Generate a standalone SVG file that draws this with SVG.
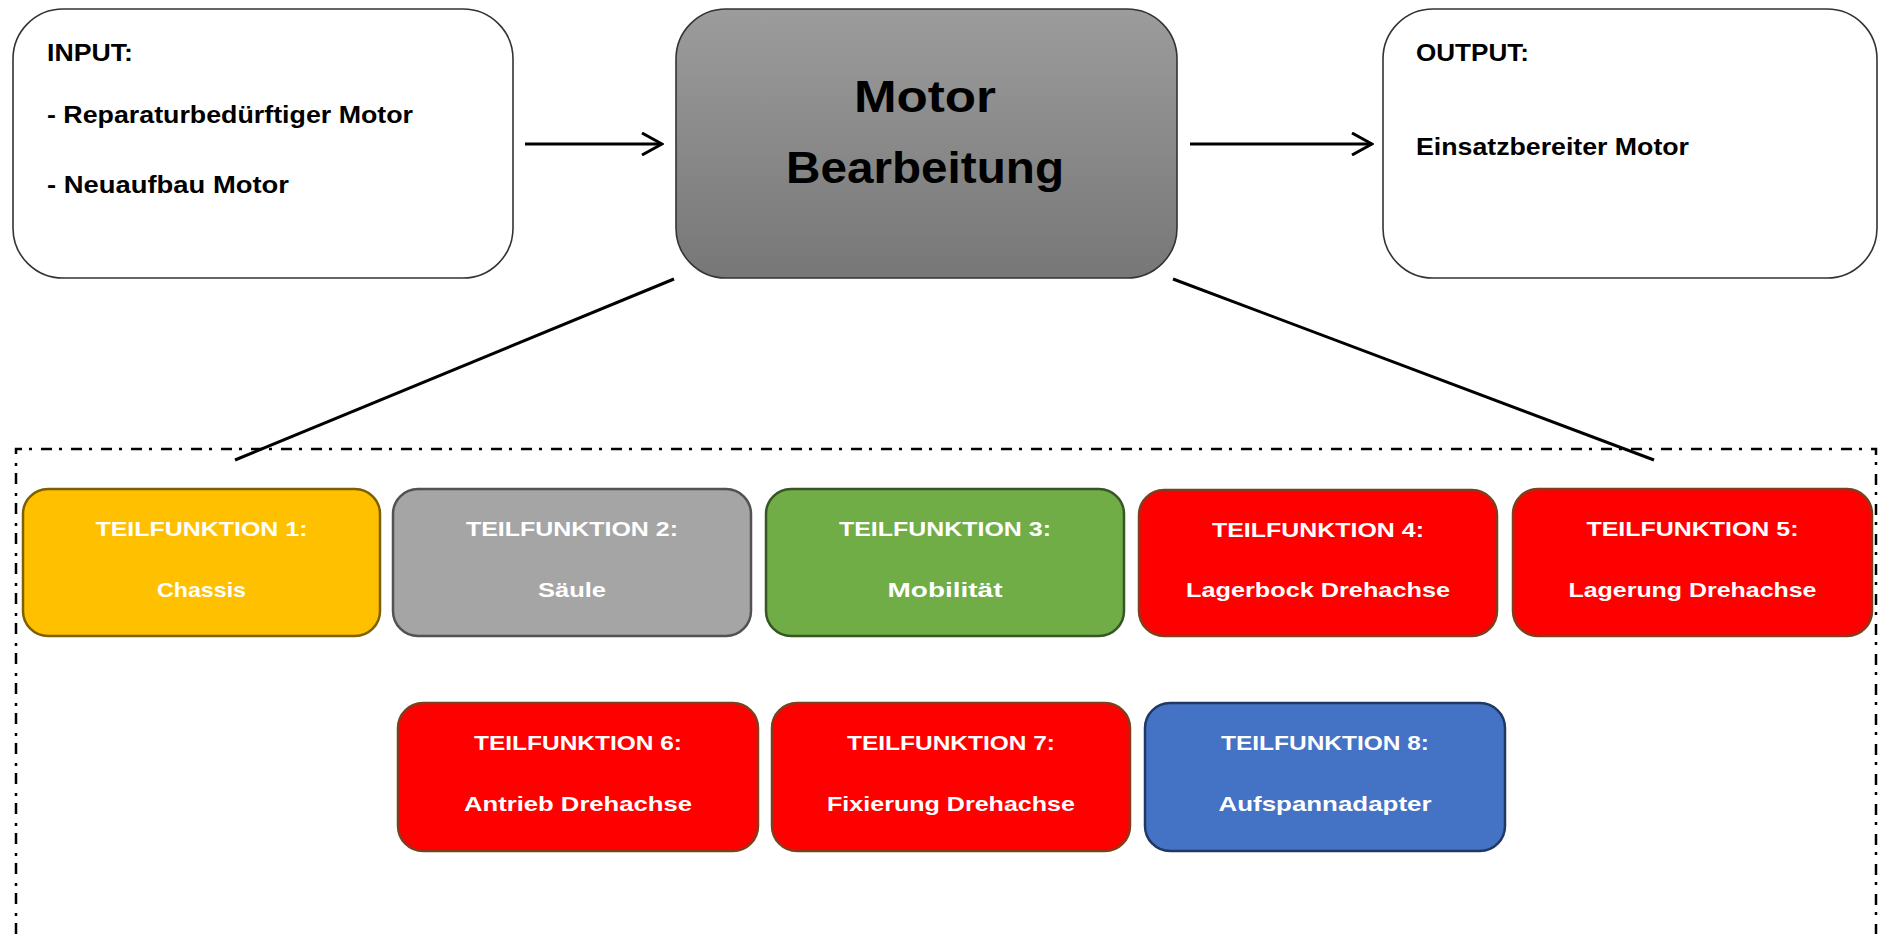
<svg xmlns="http://www.w3.org/2000/svg" width="1879" height="934" viewBox="0 0 1879 934">
<style>
text{font-family:"Liberation Sans",Arial,sans-serif;font-weight:bold;}
.io{fill:#fff;stroke:#333;stroke-width:1.6;}
.t{font-size:23px;fill:#000;}
.big{font-size:45px;fill:#000;text-anchor:middle;}
.tf{font-size:21px;fill:#fff;text-anchor:middle;}
.con{stroke:#000;stroke-width:3;fill:none;}
.tfbox{stroke-width:2.5;}
</style>
<defs>
<linearGradient id="g" x1="0" y1="0" x2="0" y2="1">
<stop offset="0" stop-color="#9c9c9c"/>
<stop offset="1" stop-color="#777"/>
</linearGradient>
<marker id="arr" viewBox="0 0 24 24" refX="22" refY="12" markerWidth="24" markerHeight="24" markerUnits="userSpaceOnUse" orient="auto">
<path d="M2,1 L22,12 L2,23" fill="none" stroke="#000" stroke-width="3"/>
</marker>
</defs>
<rect width="1879" height="934" fill="#fff"/>
<path d="M16,934 V449 H1876 V934" fill="none" stroke="#000" stroke-width="2.5" stroke-dasharray="11 7 3 9"/>
<g id="connectors">
<line class="con" x1="525" y1="144" x2="662" y2="144" marker-end="url(#arr)"/>
<line class="con" x1="1190" y1="144" x2="1372" y2="144" marker-end="url(#arr)"/>
<line class="con" x1="674" y1="279" x2="235" y2="460"/>
<line class="con" x1="1173" y1="279" x2="1654" y2="460"/>
</g>
<g id="input">
<rect class="io" x="13" y="9" width="500" height="269" rx="50"/>
<text class="t" x="47" y="61" textLength="86" lengthAdjust="spacingAndGlyphs">INPUT:</text>
<text class="t" x="47" y="123" textLength="366" lengthAdjust="spacingAndGlyphs">- Reparaturbedürftiger Motor</text>
<text class="t" x="47" y="193" textLength="242" lengthAdjust="spacingAndGlyphs">- Neuaufbau Motor</text>
</g>
<g id="motor">
<rect x="676" y="9" width="501" height="269" rx="50" fill="url(#g)" stroke="#333" stroke-width="1.6"/>
<text class="big" x="925" y="112" textLength="142" lengthAdjust="spacingAndGlyphs">Motor</text>
<text class="big" x="925" y="183" textLength="278" lengthAdjust="spacingAndGlyphs">Bearbeitung</text>
</g>
<g id="output">
<rect class="io" x="1383" y="9" width="494" height="269" rx="50"/>
<text class="t" x="1416" y="61" textLength="113" lengthAdjust="spacingAndGlyphs">OUTPUT:</text>
<text class="t" x="1416" y="155" textLength="273" lengthAdjust="spacingAndGlyphs">Einsatzbereiter Motor</text>
</g>
<g id="tf1">
<rect class="tfbox" x="23" y="489" width="357" height="147" rx="25" fill="#FFC000" stroke="#7F6000"/>
<text class="tf" x="201.5" y="536" textLength="212" lengthAdjust="spacingAndGlyphs">TEILFUNKTION 1:</text>
<text class="tf" x="201.5" y="597" textLength="89" lengthAdjust="spacingAndGlyphs">Chassis</text>
</g>
<g id="tf2">
<rect class="tfbox" x="393" y="489" width="358" height="147" rx="25" fill="#A5A5A5" stroke="#525252"/>
<text class="tf" x="572" y="536" textLength="212" lengthAdjust="spacingAndGlyphs" fill="#f2f2f2">TEILFUNKTION 2:</text>
<text class="tf" x="572" y="597" textLength="68" lengthAdjust="spacingAndGlyphs">Säule</text>
</g>
<g id="tf3">
<rect class="tfbox" x="766" y="489" width="358" height="147" rx="25" fill="#70AD47" stroke="#375623"/>
<text class="tf" x="945" y="536" textLength="212" lengthAdjust="spacingAndGlyphs">TEILFUNKTION 3:</text>
<text class="tf" x="945" y="597" textLength="115" lengthAdjust="spacingAndGlyphs">Mobilität</text>
</g>
<g id="tf4">
<rect class="tfbox" x="1139" y="490" width="358" height="146" rx="25" fill="#FF0000" stroke="#7F3F1F"/>
<text class="tf" x="1318" y="537" textLength="212" lengthAdjust="spacingAndGlyphs">TEILFUNKTION 4:</text>
<text class="tf" x="1318" y="597" textLength="264" lengthAdjust="spacingAndGlyphs">Lagerbock Drehachse</text>
</g>
<g id="tf5">
<rect class="tfbox" x="1513" y="489" width="359" height="147" rx="25" fill="#FF0000" stroke="#7F3F1F"/>
<text class="tf" x="1692.5" y="536" textLength="212" lengthAdjust="spacingAndGlyphs">TEILFUNKTION 5:</text>
<text class="tf" x="1692.5" y="597" textLength="248" lengthAdjust="spacingAndGlyphs">Lagerung Drehachse</text>
</g>
<g id="tf6">
<rect class="tfbox" x="398" y="703" width="360" height="148" rx="25" fill="#FF0000" stroke="#7F3F1F"/>
<text class="tf" x="578" y="750" textLength="208" lengthAdjust="spacingAndGlyphs">TEILFUNKTION 6:</text>
<text class="tf" x="578" y="811" textLength="228" lengthAdjust="spacingAndGlyphs">Antrieb Drehachse</text>
</g>
<g id="tf7">
<rect class="tfbox" x="772" y="703" width="358" height="148" rx="25" fill="#FF0000" stroke="#7F3F1F"/>
<text class="tf" x="951" y="750" textLength="208" lengthAdjust="spacingAndGlyphs">TEILFUNKTION 7:</text>
<text class="tf" x="951" y="811" textLength="248" lengthAdjust="spacingAndGlyphs">Fixierung Drehachse</text>
</g>
<g id="tf8">
<rect class="tfbox" x="1145" y="703" width="360" height="148" rx="25" fill="#4472C4" stroke="#1F3864"/>
<text class="tf" x="1325" y="750" textLength="208" lengthAdjust="spacingAndGlyphs">TEILFUNKTION 8:</text>
<text class="tf" x="1325" y="811" textLength="213" lengthAdjust="spacingAndGlyphs">Aufspannadapter</text>
</g>
</svg>
